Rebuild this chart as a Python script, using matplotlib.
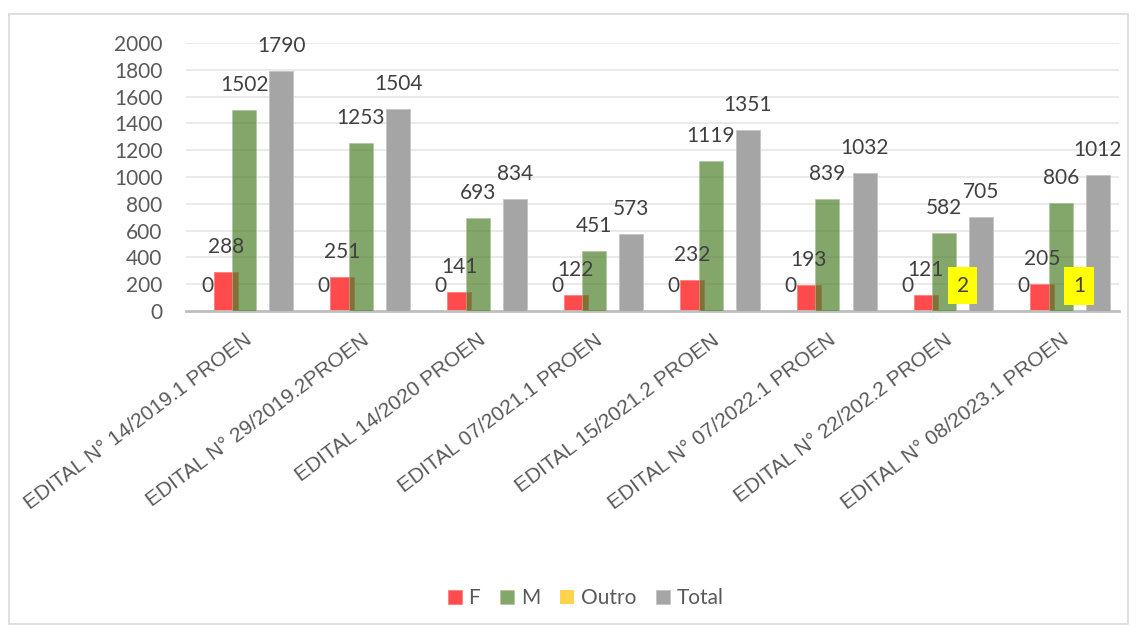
import matplotlib.pyplot as plt
import numpy as np
from matplotlib.patches import FancyBboxPatch

editais = [
    "EDITAL N° 14/2019.1 PROEN",
    "EDITAL N° 29/2019.2PROEN",
    "EDITAL 14/2020 PROEN",
    "EDITAL 07/2021.1 PROEN",
    "EDITAL 15/2021.2 PROEN",
    "EDITAL N° 07/2022.1 PROEN",
    "EDITAL N° 22/202.2 PROEN",
    "EDITAL N° 08/2023.1 PROEN",
]
sem_info = [0, 0, 0, 0, 0, 0, 0, 0]
feminino = [288, 251, 141, 122, 232, 193, 121, 205]
masculino = [1502, 1253, 693, 451, 1119, 839, 582, 806]
outro = [0, 0, 0, 0, 0, 0, 2, 1]
total = [1790, 1504, 834, 573, 1351, 1032, 705, 1012]

num_font = "Lato"
label_color = "#404040"

fig = plt.figure(figsize=(11.37, 6.28), dpi=100)
fig.patches.append(FancyBboxPatch((0.008, 0.006), 0.984, 0.972, boxstyle="square,pad=0",
                                  transform=fig.transFigure, fill=False,
                                  edgecolor="#D9D9D9", linewidth=1.2))
ax = fig.add_axes([0.1636, 0.5048, 0.8206, 0.4267])

x = np.arange(len(editais))
w = 0.206
step = 0.159

ax.bar(x - 2 * step, sem_info, w, color="none")
ax.bar(x - step, feminino, w, color="#FF4B4B", edgecolor="#FF8080", linewidth=0.6, label="F", zorder=2)
ax.bar(x, masculino, w, color="#4F802D", alpha=0.7, edgecolor="#A9C49A", linewidth=0.6, label="M", zorder=3)
ax.bar(x + step, outro, w, color="#FFD34D", label="Outro", zorder=3)
ax.bar(x + 2 * step, total, w, color="#A5A5A5", edgecolor="#C4C4C4", linewidth=0.6, label="Total", zorder=4)


def rotulos(offset, valores, skip_zero=False, box=False):
    for xi, v in zip(x + offset, valores):
        if skip_zero and v == 0:
            continue
        kw = {}
        if box:
            kw["bbox"] = dict(boxstyle="square,pad=0.42", facecolor="#FFFF00", edgecolor="none")
        ax.annotate(str(v), (xi, v), xytext=(0, 18), textcoords="offset points",
                    ha="center", va="center", fontsize=15, family=num_font,
                    color=label_color, zorder=6, **kw)


rotulos(-2 * step, sem_info)
rotulos(-step, feminino)
rotulos(0, masculino)
rotulos(step, outro, skip_zero=True, box=True)
rotulos(2 * step, total)

ax.set_xlim(-0.5, len(editais) - 0.5)
ax.set_ylim(0, 2000)
ax.set_yticks(range(0, 2001, 200))
ax.tick_params(axis="y", length=0, pad=17, labelsize=15, labelcolor="#595959")
for t in ax.get_yticklabels():
    t.set_family(num_font)
ax.grid(axis="y", color="#E6E6E6", linewidth=1.2, zorder=0)
ax.set_axisbelow(True)

ax.set_xticks(x)
ax.set_xticklabels(editais, rotation=37, ha="right", rotation_mode="anchor",
                   fontsize=15, family="Liberation Sans", color="#595959")
ax.tick_params(axis="x", length=0, pad=14)

for s in ["top", "right", "left"]:
    ax.spines[s].set_visible(False)
ax.spines["bottom"].set_color("#BFBFBF")
ax.spines["bottom"].set_linewidth(2)

leg = fig.legend(loc="center", bbox_to_anchor=(0.515, 0.047), ncol=4, frameon=False,
                 handlelength=0.7, handleheight=0.7, handletextpad=0.3, columnspacing=0.95,
                 prop={"family": num_font, "size": 15})
for t in leg.get_texts():
    t.set_color("#595959")

fig.savefig("out.png", dpi=100)
